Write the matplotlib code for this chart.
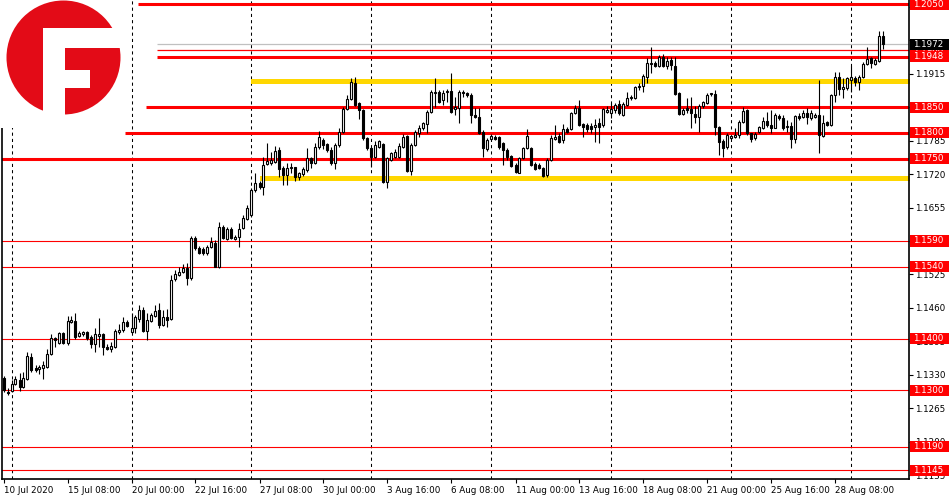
import matplotlib
matplotlib.use("Agg")
import matplotlib.pyplot as plt
from matplotlib.patches import Rectangle, Circle
from matplotlib.transforms import blended_transform_factory

# EURUSD H4 candles, 10 Jul - 28 Aug 2020
opens = [1.1324, 1.1297, 1.1299, 1.1312, 1.1320, 1.1306, 1.1322, 1.1365, 1.1343, 1.1341,
         1.1343, 1.1345, 1.1371, 1.1402, 1.1392, 1.1411, 1.1392, 1.1433, 1.1435, 1.1406,
         1.1409, 1.1413, 1.1404, 1.1390, 1.1406, 1.1409, 1.1384, 1.1380, 1.1384, 1.1413,
         1.1417, 1.1433, 1.1413, 1.1421, 1.1439, 1.1456, 1.1415, 1.1435, 1.1444, 1.1456,
         1.1427, 1.1442, 1.1439, 1.1516, 1.1524, 1.1530, 1.1538, 1.1518, 1.1596, 1.1576,
         1.1574, 1.1567, 1.1578, 1.1586, 1.1540, 1.1617, 1.1594, 1.1613, 1.1594, 1.1598,
         1.1615, 1.1633, 1.1641, 1.1689, 1.1703, 1.1695, 1.1740, 1.1742, 1.1744, 1.1767,
         1.1732, 1.1718, 1.1732, 1.1734, 1.1714, 1.1720, 1.1728, 1.1751, 1.1742, 1.1773,
         1.1786, 1.1778, 1.1767, 1.1742, 1.1777, 1.1802, 1.1846, 1.1866, 1.1897, 1.1858,
         1.1844, 1.1790, 1.1771, 1.1753, 1.1773, 1.1778, 1.1705, 1.1747, 1.1753, 1.1753,
         1.1773, 1.1794, 1.1726, 1.1777, 1.1800, 1.1810, 1.1817, 1.1841, 1.1877, 1.1879,
         1.1864, 1.1879, 1.1881, 1.1846, 1.1848, 1.1879, 1.1877, 1.1874, 1.1835, 1.1831,
         1.1802, 1.1769, 1.1788, 1.1792, 1.1792, 1.1780, 1.1767, 1.1755, 1.1738, 1.1722,
         1.1751, 1.1771, 1.1771, 1.1740, 1.1738, 1.1732, 1.1718, 1.1747, 1.1788, 1.1794,
         1.1786, 1.1808, 1.1808, 1.1839, 1.1848, 1.1817, 1.1815, 1.1813, 1.1811, 1.1819,
         1.1815, 1.1841, 1.1839, 1.1844, 1.1856, 1.1835, 1.1854, 1.1868, 1.1868, 1.1889,
         1.1891, 1.1909, 1.1934, 1.1936, 1.1930, 1.1947, 1.1930, 1.1942, 1.1930, 1.1877,
         1.1837, 1.1848, 1.1846, 1.1837, 1.1831, 1.1852, 1.1858, 1.1875, 1.1875, 1.1811,
         1.1784, 1.1773, 1.1790, 1.1792, 1.1796, 1.1821, 1.1844, 1.1800, 1.1790, 1.1802,
         1.1809, 1.1823, 1.1815, 1.1809, 1.1833, 1.1829, 1.1811, 1.1813, 1.1788, 1.1833,
         1.1831, 1.1839, 1.1829, 1.1831, 1.1835, 1.1794, 1.1821, 1.1815, 1.1874, 1.1909,
         1.1885, 1.1887, 1.1903, 1.1907, 1.1899, 1.1909, 1.1934, 1.1945, 1.1934, 1.1940,
         1.1988]
highs = [1.1328, 1.1305, 1.1320, 1.1328, 1.1334, 1.1336, 1.1374, 1.1372, 1.1349, 1.1349,
         1.1357, 1.1380, 1.1409, 1.1404, 1.1413, 1.1413, 1.1444, 1.1444, 1.1450, 1.1415,
         1.1415, 1.1415, 1.1407, 1.1421, 1.1440, 1.1411, 1.1390, 1.1394, 1.1419, 1.1429,
         1.1442, 1.1437, 1.1450, 1.1446, 1.1466, 1.1462, 1.1450, 1.1450, 1.1466, 1.1470,
         1.1456, 1.1458, 1.1524, 1.1534, 1.1540, 1.1545, 1.1547, 1.1600, 1.1600, 1.1580,
         1.1578, 1.1582, 1.1598, 1.1592, 1.1627, 1.1621, 1.1617, 1.1617, 1.1602, 1.1625,
         1.1641, 1.1660, 1.1693, 1.1722, 1.1707, 1.1753, 1.1780, 1.1763, 1.1775, 1.1773,
         1.1736, 1.1742, 1.1742, 1.1734, 1.1724, 1.1734, 1.1771, 1.1753, 1.1780, 1.1804,
         1.1790, 1.1780, 1.1773, 1.1780, 1.1810, 1.1850, 1.1874, 1.1907, 1.1909, 1.1860,
         1.1846, 1.1792, 1.1773, 1.1784, 1.1786, 1.1780, 1.1753, 1.1763, 1.1769, 1.1780,
         1.1798, 1.1796, 1.1780, 1.1806, 1.1815, 1.1821, 1.1844, 1.1883, 1.1907, 1.1883,
         1.1883, 1.1885, 1.1916, 1.1870, 1.1883, 1.1883, 1.1879, 1.1877, 1.1848, 1.1848,
         1.1806, 1.1790, 1.1798, 1.1796, 1.1794, 1.1782, 1.1771, 1.1757, 1.1742, 1.1753,
         1.1773, 1.1808, 1.1773, 1.1744, 1.1742, 1.1734, 1.1751, 1.1796, 1.1815, 1.1800,
         1.1817, 1.1812, 1.1841, 1.1854, 1.1864, 1.1819, 1.1819, 1.1819, 1.1826, 1.1828,
         1.1848, 1.1852, 1.1858, 1.1858, 1.1864, 1.1860, 1.1879, 1.1874, 1.1891, 1.1897,
         1.1914, 1.1945, 1.1967, 1.1940, 1.1951, 1.1953, 1.1947, 1.1947, 1.1947, 1.1879,
         1.1848, 1.1868, 1.1870, 1.1852, 1.1856, 1.1862, 1.1877, 1.1877, 1.1883, 1.1813,
         1.1788, 1.1800, 1.1796, 1.1810, 1.1825, 1.1850, 1.1846, 1.1800, 1.1802, 1.1813,
         1.1831, 1.1841, 1.1844, 1.1839, 1.1837, 1.1835, 1.1825, 1.1821, 1.1835, 1.1839,
         1.1844, 1.1848, 1.1844, 1.1839, 1.1903, 1.1835, 1.1823, 1.1875, 1.1918, 1.1918,
         1.1907, 1.1909, 1.1930, 1.1911, 1.1913, 1.1938, 1.1967, 1.1947, 1.1945, 1.1998,
         1.1998]
lows = [1.1297, 1.1291, 1.1297, 1.1310, 1.1299, 1.1305, 1.1320, 1.1336, 1.1336, 1.1332,
        1.1322, 1.1343, 1.1369, 1.1384, 1.1390, 1.1390, 1.1388, 1.1431, 1.1400, 1.1404,
        1.1406, 1.1398, 1.1382, 1.1374, 1.1384, 1.1369, 1.1378, 1.1374, 1.1382, 1.1409,
        1.1413, 1.1423, 1.1411, 1.1411, 1.1433, 1.1413, 1.1398, 1.1433, 1.1442, 1.1421,
        1.1425, 1.1423, 1.1437, 1.1512, 1.1522, 1.1528, 1.1505, 1.1514, 1.1572, 1.1565,
        1.1563, 1.1563, 1.1576, 1.1540, 1.1538, 1.1594, 1.1592, 1.1594, 1.1592, 1.1578,
        1.1613, 1.1631, 1.1637, 1.1685, 1.1691, 1.1680, 1.1738, 1.1738, 1.1742, 1.1714,
        1.1699, 1.1699, 1.1722, 1.1707, 1.1709, 1.1716, 1.1724, 1.1732, 1.1740, 1.1769,
        1.1769, 1.1763, 1.1738, 1.1730, 1.1773, 1.1800, 1.1844, 1.1864, 1.1852, 1.1826,
        1.1786, 1.1767, 1.1734, 1.1751, 1.1771, 1.1703, 1.1693, 1.1745, 1.1751, 1.1751,
        1.1771, 1.1724, 1.1718, 1.1775, 1.1792, 1.1806, 1.1800, 1.1839, 1.1850, 1.1858,
        1.1854, 1.1860, 1.1839, 1.1835, 1.1819, 1.1870, 1.1870, 1.1819, 1.1829, 1.1798,
        1.1753, 1.1765, 1.1786, 1.1786, 1.1769, 1.1738, 1.1747, 1.1734, 1.1722, 1.1722,
        1.1749, 1.1769, 1.1736, 1.1728, 1.1730, 1.1714, 1.1714, 1.1745, 1.1786, 1.1780,
        1.1780, 1.1800, 1.1806, 1.1837, 1.1813, 1.1792, 1.1802, 1.1800, 1.1782, 1.1780,
        1.1811, 1.1839, 1.1829, 1.1839, 1.1835, 1.1833, 1.1852, 1.1864, 1.1866, 1.1883,
        1.1879, 1.1897, 1.1916, 1.1928, 1.1928, 1.1928, 1.1924, 1.1922, 1.1874, 1.1835,
        1.1835, 1.1839, 1.1810, 1.1819, 1.1802, 1.1848, 1.1856, 1.1872, 1.1796, 1.1757,
        1.1753, 1.1769, 1.1788, 1.1790, 1.1790, 1.1819, 1.1796, 1.1782, 1.1786, 1.1800,
        1.1807, 1.1811, 1.1800, 1.1809, 1.1825, 1.1806, 1.1802, 1.1771, 1.1780, 1.1825,
        1.1829, 1.1817, 1.1825, 1.1829, 1.1761, 1.1792, 1.1813, 1.1813, 1.1860, 1.1874,
        1.1868, 1.1883, 1.1879, 1.1891, 1.1883, 1.1907, 1.1932, 1.1926, 1.1932, 1.1938,
        1.1963]
closes = [1.1301, 1.1295, 1.1312, 1.1322, 1.1306, 1.1324, 1.1367, 1.1339, 1.1339, 1.1345,
          1.1349, 1.1371, 1.1402, 1.1398, 1.1411, 1.1392, 1.1435, 1.1437, 1.1404, 1.1411,
          1.1413, 1.1402, 1.1390, 1.1409, 1.1409, 1.1384, 1.1380, 1.1386, 1.1415, 1.1417,
          1.1433, 1.1425, 1.1421, 1.1442, 1.1456, 1.1415, 1.1437, 1.1446, 1.1454, 1.1427,
          1.1442, 1.1437, 1.1514, 1.1526, 1.1530, 1.1538, 1.1518, 1.1596, 1.1576, 1.1567,
          1.1567, 1.1578, 1.1588, 1.1540, 1.1617, 1.1596, 1.1613, 1.1596, 1.1598, 1.1613,
          1.1635, 1.1654, 1.1689, 1.1703, 1.1695, 1.1738, 1.1745, 1.1747, 1.1765, 1.1730,
          1.1718, 1.1732, 1.1734, 1.1714, 1.1722, 1.1730, 1.1751, 1.1742, 1.1773, 1.1792,
          1.1777, 1.1767, 1.1742, 1.1777, 1.1802, 1.1846, 1.1866, 1.1899, 1.1854, 1.1844,
          1.1790, 1.1771, 1.1753, 1.1777, 1.1784, 1.1705, 1.1751, 1.1760, 1.1763, 1.1775,
          1.1792, 1.1726, 1.1777, 1.1802, 1.1810, 1.1819, 1.1841, 1.1879, 1.1879, 1.1860,
          1.1877, 1.1881, 1.1841, 1.1850, 1.1879, 1.1877, 1.1874, 1.1835, 1.1831, 1.1800,
          1.1771, 1.1786, 1.1794, 1.1788, 1.1773, 1.1767, 1.1753, 1.1736, 1.1724, 1.1751,
          1.1771, 1.1794, 1.1738, 1.1730, 1.1732, 1.1716, 1.1747, 1.1790, 1.1792, 1.1782,
          1.1808, 1.1802, 1.1839, 1.1848, 1.1815, 1.1811, 1.1808, 1.1808, 1.1815, 1.1811,
          1.1846, 1.1844, 1.1846, 1.1854, 1.1839, 1.1856, 1.1868, 1.1870, 1.1889, 1.1891,
          1.1911, 1.1936, 1.1936, 1.1930, 1.1947, 1.1930, 1.1940, 1.1932, 1.1875, 1.1837,
          1.1844, 1.1844, 1.1839, 1.1831, 1.1852, 1.1860, 1.1874, 1.1877, 1.1811, 1.1782,
          1.1771, 1.1796, 1.1794, 1.1796, 1.1821, 1.1842, 1.1800, 1.1788, 1.1798, 1.1811,
          1.1823, 1.1815, 1.1809, 1.1835, 1.1829, 1.1809, 1.1813, 1.1788, 1.1833, 1.1829,
          1.1839, 1.1831, 1.1839, 1.1835, 1.1796, 1.1819, 1.1815, 1.1874, 1.1909, 1.1885,
          1.1889, 1.1907, 1.1909, 1.1899, 1.1909, 1.1934, 1.1943, 1.1936, 1.1942, 1.1988,
          1.1972]

time_labels = ["10 Jul 2020", "15 Jul 08:00", "20 Jul 00:00", "22 Jul 16:00",
               "27 Jul 08:00", "30 Jul 00:00", "3 Aug 16:00", "6 Aug 08:00",
               "11 Aug 00:00", "13 Aug 16:00", "18 Aug 08:00", "21 Aug 00:00",
               "25 Aug 16:00", "28 Aug 08:00"]
label_every = 16
grid_bars = [2, 32, 62, 92, 122, 152, 182, 212]

price_ticks = [1.1135, 1.1200, 1.1265, 1.1330, 1.1395, 1.1460, 1.1525, 1.1590,
               1.1655, 1.1720, 1.1785, 1.1850, 1.1915, 1.1980, 1.2045]

# support / resistance levels
thin_levels = [1.1590, 1.1540, 1.1400, 1.1300, 1.1190, 1.1145]
thick_levels = [1.2050, 1.1948, 1.1850, 1.1800, 1.1750]
thick_start = [33.6, 38.4, 35.6, 30.4, -1]
extra_level = 1.1960
bid_price = 1.1972
zone_low = [1.1895, 1.1706]
zone_high = [1.1905, 1.1716]
zone_start = [62, 64]

RED = "#ff0000"
GOLD = "#ffd700"
plt.rcParams["font.family"] = ["DejaVu Sans"]

fig = plt.figure(figsize=(9.5, 5), dpi=100)
ax = fig.add_axes([2 / 950, 21 / 500, 907 / 950, 479 / 500])
ax.set_xlim(-0.375, 226.375)
ax.set_ylim(1.11278, 1.2058)

n = len(closes)
xs = list(range(n))

for g in grid_bars:
    ax.axvline(g, color="black", lw=0.75, ls=(0, (3, 3)), zorder=1)

for lo, hi, st in zip(zone_low, zone_high, zone_start):
    ax.fill_between([st, 230], lo, hi, color=GOLD, lw=0, zorder=2)

for lv in thin_levels:
    ax.axhline(lv, color=RED, lw=0.8, zorder=2)
for lv, st in zip(thick_levels, thick_start):
    ax.hlines(lv, st, 230, color=RED, lw=2.2, zorder=2)
ax.hlines(extra_level, 38.4, 230, color=RED, lw=0.9, zorder=2)
ax.hlines(bid_price, 38.4, 230, color="#c0c0c0", lw=0.9, zorder=2)

# candles
ax.vlines(xs, lows, highs, color="black", lw=0.8, zorder=3)
up = [i for i in xs if closes[i] >= opens[i]]
dn = [i for i in xs if closes[i] < opens[i]]
ax.bar(up, [closes[i] - opens[i] for i in up], bottom=[opens[i] for i in up],
       width=0.5, facecolor="white", edgecolor="black", lw=0.8, zorder=4)
ax.bar(dn, [opens[i] - closes[i] for i in dn], bottom=[closes[i] for i in dn],
       width=0.5, facecolor="black", edgecolor="black", lw=0.8, zorder=4)

# axes look
for s in ["left", "right", "bottom"]:
    ax.spines[s].set_linewidth(1.2)
ax.spines["top"].set_visible(False)
ax.yaxis.tick_right()
ax.set_yticks(price_ticks)
# labels sitting exactly under a price tag are hidden by it anyway
hidden = {1.1590, 1.1850, 1.1980}
ax.set_yticklabels(["" if p in hidden else f"{p:.4f}" for p in price_ticks])
ax.set_xticks([i * label_every for i in range(len(time_labels))])
ax.set_xticklabels(time_labels)
for lab in ax.get_xticklabels():
    lab.set_ha("left")
ax.tick_params(axis="y", length=3, pad=1.5, labelsize=6.3, width=0.8)
ax.tick_params(axis="x", length=3, pad=2, labelsize=6.3, width=0.8)

# price tags on the right
tr = blended_transform_factory(ax.transAxes, ax.transData)
box_h = 0.00214


def tag(price, color, z):
    ax.add_patch(Rectangle((1.0012, price - box_h / 2), 0.0425, box_h, transform=tr,
                           facecolor=color, edgecolor="none", clip_on=False, zorder=z))
    ax.text(1.0045, price, f"{price:.4f}", transform=tr, color="white", fontsize=6.3,
            va="center", ha="left", clip_on=False, zorder=z + 0.5)


tag(extra_level, RED, 6)
for lv in thick_levels + thin_levels:
    tag(lv, RED, 7)
tag(bid_price, "black", 8)

# logo in the top left corner
lg = fig.add_axes([0, 1 - 128 / 500, 128 / 950, 128 / 500], zorder=10)
lg.set_xlim(0, 128)
lg.set_ylim(128, 0)
lg.axis("off")
lg.add_patch(Rectangle((0, 0), 128, 128, facecolor="white", edgecolor="none"))
lg.add_patch(Circle((63.5, 57.5), 57, facecolor="#e30b17", edgecolor="none"))
lg.add_patch(Rectangle((43, 28), 22, 100, facecolor="white", edgecolor="none"))
lg.add_patch(Rectangle((43, 28), 85, 20, facecolor="white", edgecolor="none"))
lg.add_patch(Rectangle((64, 70), 26, 18, facecolor="white", edgecolor="none"))

fig.savefig("out.png", dpi=100)
